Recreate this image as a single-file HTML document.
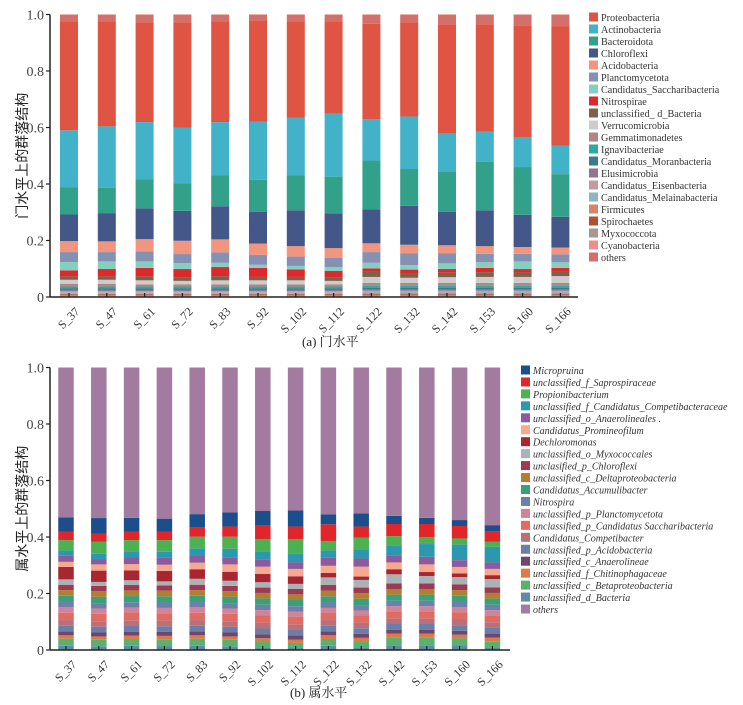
<!DOCTYPE html>
<html><head><meta charset="utf-8">
<style>
html,body{margin:0;padding:0;background:#fff;}
svg{display:block;font-family:"Liberation Serif","Noto Serif CJK SC",serif;}
</style></head>
<body>
<svg id="chart" width="743" height="705" viewBox="0 0 743 705" xmlns="http://www.w3.org/2000/svg"></svg>
<script>
// ===== Shared categories =====
const samples = ["S_37","S_47","S_61","S_72","S_83","S_92","S_102","S_112","S_122","S_132","S_142","S_153","S_160","S_166"];
const yTicks = [0, 0.2, 0.4, 0.6, 0.8, 1.0];
const yTickLabels = ["0","0.2","0.4","0.6","0.8","1.0"];

// ===== Chart (a): phylum level =====
const cyanobacteria = [.003,.003,.003,.003,.003,.003,.003,.003,.003,.003,.003,.003,.003,.003];
const myxococcota = [.003,.003,.003,.003,.003,.003,.003,.003,.003,.003,.003,.003,.003,.003];
const spirochaetes = [.003,.003,.003,.003,.003,.003,.003,.003,.004,.004,.004,.004,.004,.004];
const firmicutes = [.004,.004,.004,.004,.004,.004,.004,.004,.004,.004,.004,.004,.004,.004];
const melainabacteria = [.004,.004,.004,.004,.004,.004,.004,.004,.004,.004,.004,.004,.004,.004];
const eisenbacteria = [.004,.004,.004,.004,.004,.004,.004,.004,.004,.004,.004,.004,.004,.004];
const elusimicrobia = [.004,.004,.004,.004,.004,.004,.004,.004,.004,.004,.004,.004,.004,.004];
const moranbacteria = [.005,.005,.005,.005,.005,.005,.005,.005,.006,.006,.006,.006,.006,.006];
const ignavibacteriae = [.007,.007,.007,.007,.007,.007,.007,.007,.008,.008,.008,.008,.008,.008];
const gemmatimonadetes = [.009,.009,.008,.008,.008,.008,.008,.008,.010,.010,.010,.010,.010,.010];
const verrucomicrobia = [.015,.015,.014,.012,.014,.014,.014,.012,.021,.018,.020,.021,.021,.024];
const unclassifiedBacteria = [.012,.012,.014,.011,.015,.012,.012,.011,.019,.015,.016,.017,.016,.016];
const nitrospirae = [.021,.026,.030,.031,.032,.032,.027,.024,.011,.014,.013,.015,.012,.013];
const saccharibacteria = [.030,.027,.023,.021,.015,.011,.012,.014,.020,.016,.020,.020,.027,.020];
const planctomycetota = [.035,.033,.036,.032,.037,.035,.033,.032,.038,.041,.035,.030,.027,.028];
const acidobacteria = [.039,.038,.043,.047,.046,.040,.037,.035,.031,.031,.029,.027,.024,.024];
const chloroflexi = [.094,.100,.109,.106,.117,.113,.127,.123,.120,.138,.119,.127,.114,.109];
const bacteroidota = [.097,.089,.102,.097,.109,.113,.123,.130,.173,.130,.143,.171,.169,.151];
const actinobacteria = [.201,.218,.203,.198,.189,.205,.204,.223,.146,.186,.134,.108,.105,.100];
const proteobacteria = [.385,.371,.353,.372,.356,.357,.341,.326,.338,.333,.386,.379,.397,.424];
const phylumOthers = [.025,.025,.028,.028,.025,.023,.025,.025,.033,.028,.035,.035,.038,.041];

// ===== Chart (b): genus level =====
const dBacteria = [.015,.013,.015,.014,.015,.013,.010,.007,.015,.010,.017,.017,.016,.010];
const betaproteobacteria = [.025,.023,.024,.024,.025,.023,.020,.018,.024,.020,.028,.028,.025,.021];
const chitinophagaceae = [.012,.012,.012,.012,.012,.012,.012,.012,.013,.013,.013,.013,.013,.013];
const anaerolineae = [.014,.014,.014,.014,.014,.014,.014,.014,.014,.014,.014,.014,.014,.014];
const gAcidobacteria = [.020,.020,.020,.020,.020,.020,.020,.020,.020,.020,.020,.020,.020,.020];
const competibacter = [.020,.020,.020,.020,.020,.020,.020,.020,.020,.020,.020,.020,.020,.020];
const gSaccharibacteria = [.026,.026,.026,.026,.026,.026,.026,.026,.025,.025,.025,.025,.025,.025];
const gPlanctomycetota = [.019,.019,.019,.019,.019,.019,.019,.019,.018,.018,.018,.018,.018,.018];
const nitrospira = [.019,.019,.019,.019,.019,.019,.019,.019,.019,.019,.019,.019,.019,.019];
const accumulibacter = [.022,.022,.022,.022,.022,.022,.022,.022,.022,.022,.022,.022,.022,.022];
const deltaproteobacteria = [.020,.020,.020,.020,.020,.020,.020,.020,.020,.020,.020,.020,.020,.020];
const pChloroflexi = [.019,.019,.019,.019,.019,.019,.019,.019,.020,.020,.020,.020,.020,.020];
const myxococcales = [.019,.014,.017,.014,.021,.018,.019,.018,.027,.027,.032,.026,.026,.029];
const dechloromonas = [.044,.040,.035,.037,.034,.032,.029,.027,.016,.012,.018,.014,.013,.014];
const promineofilum = [.018,.022,.022,.022,.023,.026,.026,.026,.025,.035,.024,.027,.023,.022];
const anaerolineales = [.022,.019,.025,.024,.027,.025,.026,.023,.029,.029,.025,.027,.024,.023];
const competibacteraceae = [.018,.019,.018,.022,.024,.030,.028,.030,.025,.030,.036,.045,.055,.055];
const propionibacterium = [.037,.043,.042,.041,.041,.043,.044,.053,.034,.044,.032,.024,.022,.019];
const saprospiraceae = [.029,.027,.029,.029,.033,.036,.047,.044,.059,.039,.043,.047,.044,.037];
const micropruina = [.052,.056,.050,.047,.047,.050,.052,.057,.035,.047,.029,.022,.021,.021];
const genusOthers = [.530,.533,.532,.535,.519,.513,.508,.506,.520,.516,.525,.532,.540,.558];

const phylumSeries = [
 ["Proteobacteria", proteobacteria, "#e05444"],
 ["Actinobacteria", actinobacteria, "#42b2c8"],
 ["Bacteroidota", bacteroidota, "#33a08a"],
 ["Chloroflexi", chloroflexi, "#435889"],
 ["Acidobacteria", acidobacteria, "#f2957f"],
 ["Planctomycetota", planctomycetota, "#8491b3"],
 ["Candidatus_Saccharibacteria", saccharibacteria, "#86cfbe"],
 ["Nitrospirae", nitrospirae, "#dc2a2c"],
 ["unclassified_ d_Bacteria", unclassifiedBacteria, "#7e6148"],
 ["Verrucomicrobia", verrucomicrobia, "#cccccc"],
 ["Gemmatimonadetes", gemmatimonadetes, "#b58382"],
 ["Ignavibacteriae", ignavibacteriae, "#2baaa0"],
 ["Candidatus_Moranbacteria", moranbacteria, "#3a7b8d"],
 ["Elusimicrobia", elusimicrobia, "#957291"],
 ["Candidatus_Eisenbacteria", eisenbacteria, "#c29aa4"],
 ["Candidatus_Melainabacteria", melainabacteria, "#8fb5c0"],
 ["Firmicutes", firmicutes, "#d9836a"],
 ["Spirochaetes", spirochaetes, "#b05136"],
 ["Myxococcota", myxococcota, "#a89690"],
 ["Cyanobacteria", cyanobacteria, "#e8918a"],
 ["others", phylumOthers, "#d4706a"]
];
const genusSeries = [
 ["Micropruina", micropruina, "#1d4e8c"],
 ["unclassified_f_Saprospiraceae", saprospiraceae, "#e0262b"],
 ["Propionibacterium", propionibacterium, "#4db151"],
 ["unclassified_f_Candidatus_Competibacteraceae", competibacteraceae, "#2b98b0"],
 ["unclassified_o_Anaerolineales .", anaerolineales, "#8e5a9e"],
 ["Candidatus_Promineofilum", promineofilum, "#f7a98e"],
 ["Dechloromonas", dechloromonas, "#a82632"],
 ["unclassified_o_Myxococcales", myxococcales, "#a9b3b6"],
 ["unclasified_p_Chloroflexi", pChloroflexi, "#9b3a52"],
 ["unclassified_c_Deltaproteobacteria", deltaproteobacteria, "#b08030"],
 ["Candidatus_Accumulibacter", accumulibacter, "#3aa07a"],
 ["Nitrospira", nitrospira, "#6e7fac"],
 ["unclassified_p_Planctomycetota", gPlanctomycetota, "#cf8499"],
 ["unclassified_p_Candidatus Saccharibacteria", gSaccharibacteria, "#df6b63"],
 ["Candidatus_Competibacter", competibacter, "#bb6f78"],
 ["unclassified_p_Acidobacteria", gAcidobacteria, "#6a7ea8"],
 ["unclassified_c_Anaerolineae", anaerolineae, "#6e4670"],
 ["unclassified_f_Chitinophagaceae", chitinophagaceae, "#dc7b4a"],
 ["unclassified_c_Betaproteobacteria", betaproteobacteria, "#5bb06c"],
 ["unclassified_d_Bacteria", dBacteria, "#5a8ea8"],
 ["others", genusOthers, "#a47ba0"]
];

const NS = "http://www.w3.org/2000/svg";
const svg = document.getElementById("chart");
function mk(tag, attrs, parent) {
  const e = document.createElementNS(NS, tag);
  for (const k in attrs) e.setAttribute(k, attrs[k]);
  (parent || svg).appendChild(e);
  return e;
}

function drawChart(cfg) {
  const g = mk("g", {});
  
  
  const yScale = v => cfg.y0 - v * (cfg.y0 - cfg.y1);
  const xCenter = i => cfg.x0 + i * cfg.pitch;
  const order = cfg.series.slice(0, -1).reverse().concat([cfg.series[cfg.series.length - 1]]);
  samples.forEach((s, i) => {
    let cum = 0;
    order.forEach(ser => {
      const v = ser[1][i];
      const r = mk("rect", {x: xCenter(i) - cfg.bw / 2, y: yScale(cum + v), width: cfg.bw, height: Math.max(0, yScale(cum) - yScale(cum + v)), fill: ser[2]}, g);
      
      
      cum += v;
    });
    const tk = mk("line", {x1: xCenter(i), x2: xCenter(i), y1: cfg.y0, y2: cfg.y0 - 4, stroke: "#222", "stroke-width": 1.2}, g);
    
    
    const lx = xCenter(i) + 5, ly = cfg.y0 + 9;
    const t = mk("text", {x: lx, y: ly, "text-anchor": "end", "font-size": 12, fill: "#333", transform: `rotate(-45 ${lx} ${ly})`, "dominant-baseline": "hanging"}, g);
    t.textContent = s;
    
    
  });
  const ya = mk("line", {x1: cfg.ax, x2: cfg.ax, y1: cfg.y1, y2: cfg.y0, stroke: "#222", "stroke-width": 1.5}, g);
  
  
  const xa = mk("line", {x1: cfg.ax, x2: cfg.axEnd, y1: cfg.y0, y2: cfg.y0, stroke: "#222", "stroke-width": 1.5}, g);
  
  
  yTicks.forEach((v, k) => {
    const l = mk("line", {x1: cfg.ax - 4, x2: cfg.ax, y1: yScale(v), y2: yScale(v), stroke: "#222", "stroke-width": 1.2}, g);
    
    
    const t = mk("text", {x: cfg.ax - 6, y: yScale(v) + 5, "text-anchor": "end", "font-size": 14, fill: "#444"}, g);
    t.textContent = yTickLabels[k];
    
    
  });
  const yt = mk("text", {x: 27, y: (cfg.y0 + cfg.y1) / 2, "text-anchor": "middle", "font-size": 14, fill: "#222", transform: `rotate(-90 27 ${(cfg.y0 + cfg.y1) / 2})`, "font-family": "'Noto Sans CJK SC', sans-serif"}, g);
  yt.textContent = cfg.ytitle;
  
  
  const cap = mk("text", {x: cfg.capX, y: cfg.capY, "font-size": 13, fill: "#222"}, g);
  cap.textContent = cfg.caption;
  
  
  const lg = mk("g", {}, g);
  
  
  cfg.series.forEach((ser, k) => {
    const cy = cfg.legY + k * cfg.legStep;
    const sw = mk("rect", {x: cfg.legX, y: cy - 4.5, width: 9, height: 9, fill: ser[2]}, lg);
    
    
    const t = mk("text", {x: cfg.legX + 12, y: cy + 4, "font-size": cfg.legFont, fill: "#333", "font-style": cfg.italic ? "italic" : "normal"}, lg);
    t.textContent = ser[0];
    
    
  });
}

drawChart({name: "phylum-chart", series: phylumSeries, y0: 297, y1: 14.5, x0: 69, pitch: 37.8, bw: 18, ax: 50, axEnd: 578,
  ytitle: "门水平上的群落结构", caption: "(a) 门水平", capX: 302, capY: 346,
  legX: 589, legY: 17, legStep: 12, legFont: 10.2, italic: false});
drawChart({name: "genus-chart", series: genusSeries, y0: 650, y1: 367.5, x0: 66, pitch: 32.8, bw: 15.5, ax: 50, axEnd: 510,
  ytitle: "属水平上的群落结构", caption: "(b) 属水平", capX: 290, capY: 697,
  legX: 521, legY: 370, legStep: 11.95, legFont: 10, italic: true});
</script>
</body></html>
